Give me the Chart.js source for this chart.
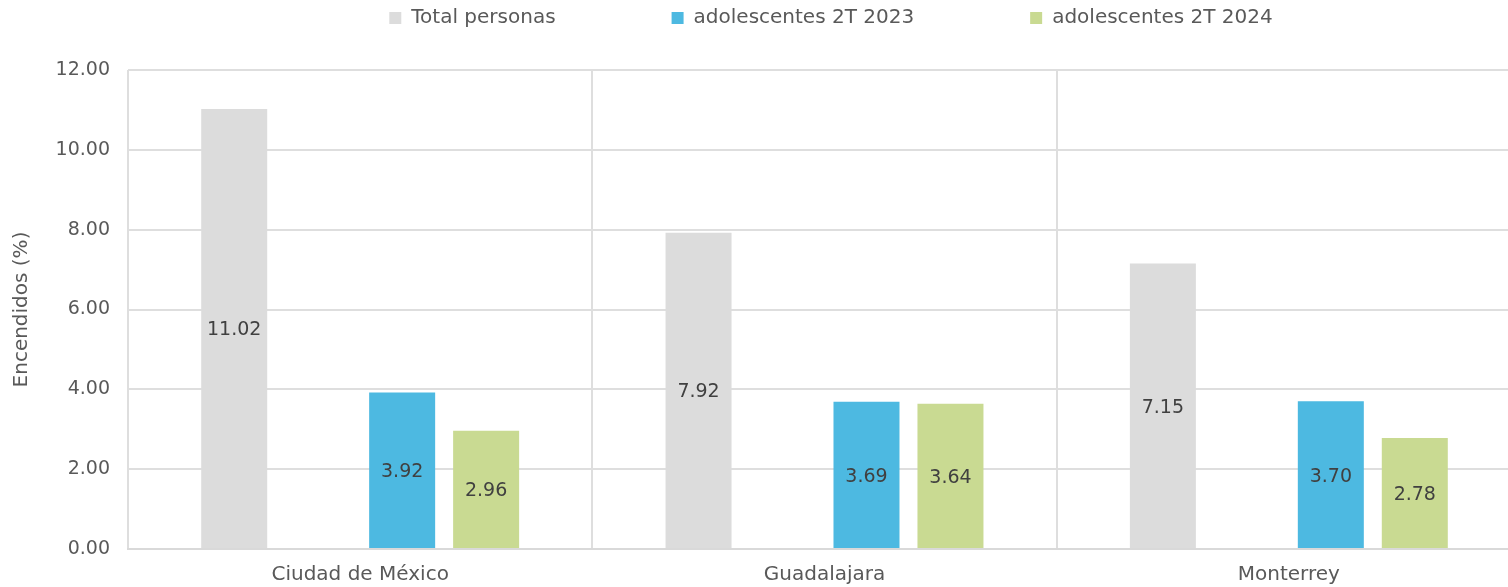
<!DOCTYPE html>
<html>
<head>
<meta charset="utf-8">
<script src="https://cdn.jsdelivr.net/npm/chart.js@4/dist/chart.umd.min.js"></script>
<style>
html,body{margin:0;padding:0;background:#fff;overflow:hidden;}
#wrap{width:1530px;height:587px;}
</style>
</head>
<body>
<div id="wrap"><canvas id="chart" width="1530" height="587"></canvas></div>
<script>
const cities = ["Ciudad de México","Guadalajara","Monterrey"];
const totalPersonas = [11.02,7.92,7.15];
const emptySlot = [null,null,null];
const adol2023 = [3.92,3.69,3.70];
const adol2024 = [2.96,3.64,2.78];
const yTicks = [0,2,4,6,8,10,12];

const FONT = "'DejaVu Sans', sans-serif";

// values written in the middle of each bar
const barLabels = {
id:"barLabels",
afterDatasetsDraw(chart){
const ctx = chart.ctx;
ctx.save();
ctx.font = "19px " + FONT;
ctx.fillStyle = "#404040";
ctx.textAlign = "center";
ctx.textBaseline = "middle";
chart.data.datasets.forEach((ds,i) => {
const meta = chart.getDatasetMeta(i);
meta.data.forEach((bar,j) => {
const v = ds.data[j];
if(v == null) return;
ctx.fillText(v.toFixed(2), bar.x, (bar.y + bar.base)/2 + 2);
});
});
ctx.restore();
}
};

// wide gaps between legend items without the legend eating vertical room
const legendPlace = {
id:"legendPlace",
beforeDraw(chart){
const lg = chart.legend;
const p = lg.options.labels.padding;
lg.top = 8 - p;
lg.bottom = 40;
lg.left = 132;
lg.right = 1530;
}
};

new Chart(document.getElementById("chart"),{
type:"bar",
data:{
labels:cities,
datasets:[
{label:"Total personas",data:totalPersonas,backgroundColor:"#dcdcdc"},
{label:"",data:emptySlot,backgroundColor:"#ffffff"},
{label:"adolescentes 2T 2023",data:adol2023,backgroundColor:"#4db9e1"},
{label:"adolescentes 2T 2024",data:adol2024,backgroundColor:"#c9da92"}
]
},
options:{
responsive:false,
animation:false,
layout:{padding:{top:4,right:9,left:0,bottom:0}},
datasets:{bar:{categoryPercentage:0.7234,barPercentage:0.786}},
plugins:{
tooltip:{enabled:false},
legend:{
position:"top",
maxHeight:66,
labels:{
font:{family:FONT,size:20},
color:"#595959",
boxWidth:12,
boxHeight:12,
padding:116,
filter:item => item.text !== ""
}
}
},
scales:{
x:{
offset:true,
grid:{offset:true,color:"#dedede",lineWidth:2,drawTicks:false},
border:{color:"#d9d9d9",width:2},
ticks:{font:{family:FONT,size:20},color:"#595959",padding:14,maxRotation:0},
afterFit(scale){ scale.height = 38; }
},
y:{
min:0,
max:12,
afterBuildTicks(scale){ scale.ticks = yTicks.map(v => ({value:v})); },
grid:{color:"#dedede",lineWidth:2,drawTicks:false},
border:{display:false},
ticks:{font:{family:FONT,size:19},color:"#595959",padding:18,callback:v => Number(v).toFixed(2)},
title:{display:true,text:"Encendidos (%)",font:{family:FONT,size:20},color:"#595959",padding:{top:10,bottom:0}},
afterFit(scale){ scale.width = 128; }
}
}
},
plugins:[barLabels,legendPlace]
});
</script>
</body>
</html>
